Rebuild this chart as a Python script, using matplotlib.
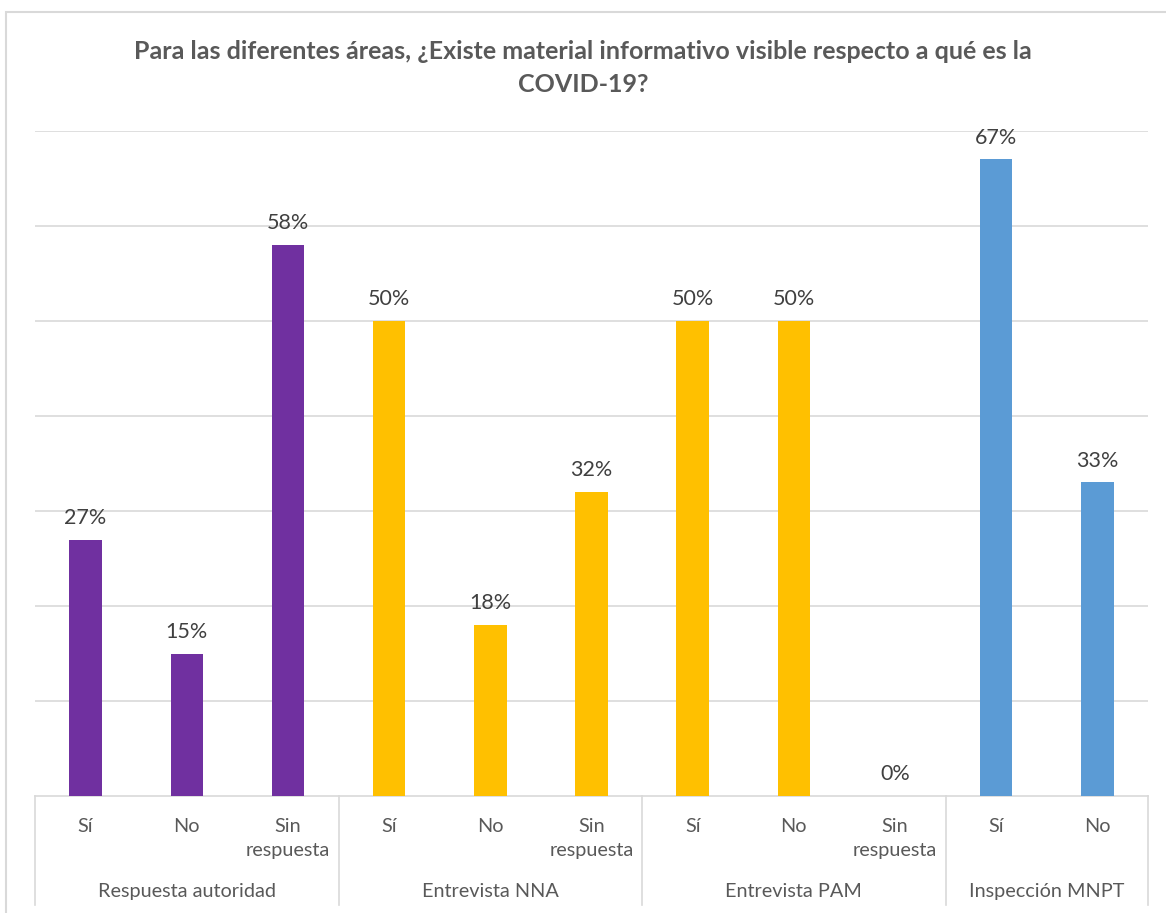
import matplotlib
matplotlib.use("Agg")
import matplotlib.pyplot as plt
from matplotlib.patches import Rectangle
from matplotlib.transforms import blended_transform_factory

plt.rcParams['font.family'] = ['Lato', 'DejaVu Sans']

# data
groups = ["Respuesta autoridad", "Entrevista NNA", "Entrevista PAM", "Inspección MNPT"]
answers = [["Sí", "No", "Sin\nrespuesta"],
           ["Sí", "No", "Sin\nrespuesta"],
           ["Sí", "No", "Sin\nrespuesta"],
           ["Sí", "No"]]
values = [[27, 15, 58],
          [50, 18, 32],
          [50, 50, 0],
          [67, 33]]
group_colors = ["#7030A0", "#FFC000", "#FFC000", "#5B9BD5"]

title = "Para las diferentes áreas, ¿Existe material informativo visible respecto a qué es la\nCOVID-19?"

W, H = 1166, 913
fig = plt.figure(figsize=(W / 100, H / 100), dpi=100)
fig.patch.set_facecolor("white")

# outer chart border (cropped at bottom/right like the reference)
fig.patches.append(Rectangle((6 / W, -0.05), 1.2, 1 - 12 / H + 0.05,
                             transform=fig.transFigure, fill=False,
                             edgecolor="#D9D9D9", linewidth=1.5))

ax = fig.add_axes([35 / W, 1 - 796 / H, (1148 - 35) / W, (796 - 131) / H])

x = 0
xs, labels, heights, colors, bounds = [], [], [], [], [-0.5]
for g, ans, vals, col in zip(groups, answers, values, group_colors):
    for a, v in zip(ans, vals):
        xs.append(x)
        labels.append(a)
        heights.append(v / 100)
        colors.append(col)
        x += 1
    bounds.append(x - 0.5)

bars = ax.bar(xs, heights, width=0.32, color=colors, zorder=3)
for b, h in zip(bars, heights):
    ax.annotate(f"{round(h * 100)}%", (b.get_x() + b.get_width() / 2, h),
                xytext=(0, 8.5), textcoords="offset points",
                ha="center", va="bottom", fontsize=15.5, color="#404040")

ax.set_xlim(-0.5, x - 0.5)
ax.set_ylim(0, 0.70)
ax.set_yticks([i / 10 for i in range(1, 8)])
ax.yaxis.grid(True, color="#D9D9D9", linewidth=1.2, zorder=0)
ax.tick_params(axis="y", left=False, labelleft=False)
for s in ["left", "right", "top"]:
    ax.spines[s].set_visible(False)
ax.spines["bottom"].set_color("#D9D9D9")
ax.spines["bottom"].set_linewidth(1.2)

ax.set_xticks(xs)
ax.set_xticklabels(labels, fontsize=14.3, color="#595959", linespacing=1.5, va="top")
ax.tick_params(axis="x", length=0, pad=15.5)

trans = blended_transform_factory(ax.transData, ax.transAxes)
drop = (905 - 796) / (796 - 131)
for bx in bounds:
    ax.plot([bx, bx], [0, -drop], transform=trans, color="#D9D9D9",
            linewidth=1.2, clip_on=False)
for i, g in enumerate(groups):
    cx = (bounds[i] + bounds[i + 1]) / 2
    ax.text(cx, -(891 - 796) / (796 - 131), g, transform=trans, ha="center",
            va="center", fontsize=14.3, color="#595959")

fig.text(0.5, 1 - 68 / H, title, ha="center", va="center", fontsize=18,
         fontweight="bold", color="#595959", linespacing=1.5)

fig.savefig("out.png", dpi=100)
